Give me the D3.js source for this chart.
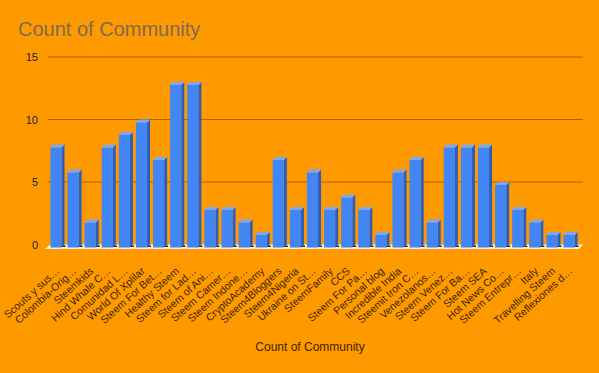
<!DOCTYPE html>
<html><head><meta charset="utf-8">
<script src="https://cdn.jsdelivr.net/npm/d3@7"></script>
<style>body{margin:0;background:#ff9900}svg{display:block}</style>
</head><body>
<script>
const categories = ["Scouts y sus…","Colombia-Orig…","Steemkids","Hind Whale C…","Comunidad L…","World Of Xplilar","Steem For Bet…","Healthy Steem","Steem for Lad…","Steem of Ani…","Steem Camer…","Steem Indone…","CryptoAcademy","Steem4Bloggers","Steem4Nigeria","Ukraine on St…","SteemFamily","CCS","Steem For Pa…","Personal blog","Incredible India","Steemit Iron C…","Venezolanos…","Steem Venez…","Steem For Ba…","Steem SEA","Hot News Co…","Steem Entrepr…","Italy","Travelling Steem","Reflexiones d…"];
const counts = [8,6,2,8,9,10,7,13,13,3,3,2,1,7,3,6,3,4,3,1,6,7,2,8,8,8,5,3,2,1,1];
const yTicks = [0,5,10,15];
const titleText = "Count of Community";
const xTitle = "Count of Community";

const W = 599, H = 373;
const svg = d3.select("body").append("svg").attr("width", W).attr("height", H);
svg.append("rect").attr("width", W).attr("height", H).attr("fill", "#ff9900");

const x = d3.scaleBand().domain(categories).range([47, 578]).paddingInner(0.35).paddingOuter(0.2);
const y = d3.scaleLinear().domain([0, 15]).range([244.5, 57]);
const dx = 3, dy = 3;

svg.append("text").attr("x", 18).attr("y", 36).text(titleText)
  .attr("font-family", "Liberation Sans, Arial, sans-serif").attr("font-size", 20).attr("fill", "#7d6b50");

// gridlines
const g = svg.append("g");
g.selectAll("line.grid").data(yTicks.filter(d => d > 0)).join("line")
  .attr("x1", 48).attr("x2", 583).attr("y1", d => y(d)).attr("y2", d => y(d))
  .attr("stroke", "#a66300").attr("stroke-width", 1);
g.selectAll("text.yt").data(yTicks).join("text")
  .attr("x", 38).attr("y", d => y(d) + 4).attr("text-anchor", "end")
  .attr("font-family", "Liberation Sans, Arial, sans-serif").attr("font-size", 11).attr("fill", "#222")
  .text(d => d);

// floor
const x0 = 50, x1 = 583;
svg.append("path").attr("d", `M${x0},${y(0)} L${x1},${y(0)} L${x1 - 4},${y(0) + 4.5} L${x0 - 5},${y(0) + 4.5} Z`)
  .attr("fill", "#fcefdc");

// bar shadows
svg.selectAll("rect.sh").data(categories).join("rect")
  .attr("x", d => x(d) + 1).attr("y", y(0) + 1).attr("width", x.bandwidth() + dx)
  .attr("height", 1.5).attr("fill", "#222");

const bw = x.bandwidth();
const bars = svg.selectAll("g.bar").data(categories.map((c, i) => ({c, v: counts[i]}))).join("g");
bars.append("path").attr("fill", "#2d5fb8").attr("d", d => {
  const X = x(d.c), Y = y(d.v), B = y(0);
  return `M${X + bw},${Y + dy} L${X + bw + dx},${Y} L${X + bw + dx},${B} L${X + bw},${B + dy} Z`;
});
bars.append("rect").attr("fill", "#4285f4")
  .attr("x", d => x(d.c)).attr("y", d => y(d.v) + dy).attr("width", bw).attr("height", d => y(0) - y(d.v));
bars.append("path").attr("fill", "#7aa8f8").attr("d", d => {
  const X = x(d.c), Y = y(d.v);
  return `M${X},${Y + dy} L${X + dx},${Y} L${X + bw + dx},${Y} L${X + bw},${Y + dy} Z`;
});

// x labels
svg.selectAll("text.xl").data(categories).join("text")
  .attr("transform", d => `translate(${x(d) + bw / 2 + 4},${272}) rotate(-42)`)
  .attr("text-anchor", "end")
  .attr("font-family", "Liberation Sans, Arial, sans-serif").attr("font-size", 10.5).attr("fill", "#3d2600")
  .text(d => d);

svg.append("text").attr("x", 310).attr("y", 351).attr("text-anchor", "middle")
  .attr("font-family", "Liberation Sans, Arial, sans-serif").attr("font-size", 12).attr("fill", "#3d2600")
  .text(xTitle);
</script>
</body></html>
